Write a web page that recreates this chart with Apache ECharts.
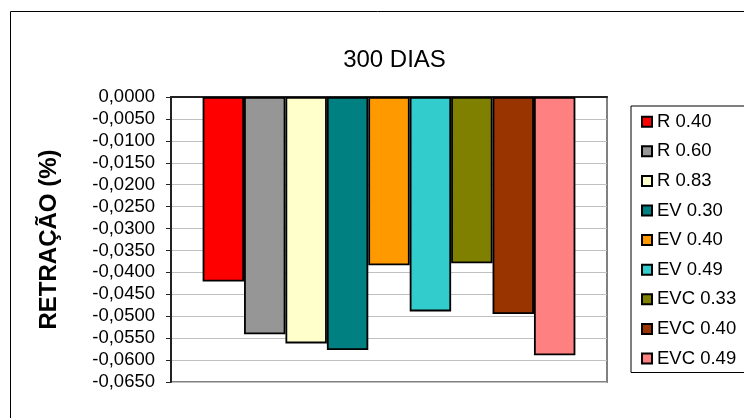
<!DOCTYPE html>
<html>
<head>
<meta charset="utf-8">
<script src="https://cdn.jsdelivr.net/npm/echarts@6/dist/echarts.min.js"></script>
<style>
html,body{margin:0;padding:0;background:#fff;}
#c{width:744px;height:418px;}
</style>
</head>
<body>
<div id="c"></div>
<script>
const titleText = '300 DIAS';
const yAxisName = 'RETRAÇÃO (%)';
const categories = [''];
const seriesNames = ['R 0.40','R 0.60','R 0.83','EV 0.30','EV 0.40','EV 0.49','EVC 0.33','EVC 0.40','EVC 0.49'];
const seriesValues = [-0.0421,-0.0541,-0.0562,-0.0577,-0.0384,-0.0489,-0.0379,-0.0495,-0.0589];
const yMin = -0.065;
const yMax = 0;
const yStep = 0.005;
const barColors = ['#FF0000','#969696','#FFFFCC','#008080','#FF9900','#33CCCC','#808000','#993300','#FF8080'];

const FONT = '"Liberation Sans", Arial, sans-serif';
const chart = echarts.init(document.getElementById('c'), null, {renderer:'canvas'});

const series = seriesNames.map((n,i)=>({
  name:n, type:'bar', data:[seriesValues[i]],
  barGap:'0%', barCategoryGap:'14.5%',
  itemStyle:{color:barColors[i], borderColor:'#000', borderWidth:1.8},
  emphasis:{disabled:true}
}));

chart.setOption({
  animation:false,
  backgroundColor:'#fff',
  graphic:[{type:'rect', shape:{x:10.5,y:11.5,width:800,height:500}, style:{fill:'none',stroke:'#000',lineWidth:1}, z:-10}],
  title:{text:titleText, left:389.5, top:55.5, textAlign:'center', textVerticalAlign:'middle',
    textStyle:{fontFamily:FONT,fontSize:24,fontWeight:'normal',color:'#000'}},
  legend:{orient:'vertical', left:631, top:106, padding:[5.7,40,4,10],
    borderColor:'#000', borderWidth:1, backgroundColor:'#fff',
    itemWidth:10, itemHeight:10, itemGap:9.6, icon:'rect',
    textStyle:{fontFamily:FONT,fontSize:18.5,lineHeight:20,color:'#000'},
    data:seriesNames},
  grid:{left:171, right:137, top:97, bottom:36, show:true, borderColor:'#808080', borderWidth:2, backgroundColor:'#fff', containLabel:false},
  xAxis:{type:'category', data:categories, position:'top',
    axisLine:{lineStyle:{color:'#222',width:2}}, axisTick:{show:false}, axisLabel:{show:false}},
  yAxis:{type:'value', min:yMin, max:yMax, interval:yStep,
    name:yAxisName, nameLocation:'middle', nameRotate:90, nameGap:110,
    nameTextStyle:{fontFamily:FONT,fontSize:24,fontWeight:'bold',color:'#000'},
    axisLine:{show:true, lineStyle:{color:'#222',width:2}},
    axisTick:{show:true, length:5, lineStyle:{color:'#222'}},
    axisLabel:{margin:16, fontFamily:FONT, fontSize:18.5, color:'#000',
      formatter:v=>(Math.abs(v)<1e-12?0:v).toFixed(4).replace('.',',')},
    splitLine:{lineStyle:{color:'#c0c0c0',width:1}}},
  series:series
});
</script>
</body>
</html>
